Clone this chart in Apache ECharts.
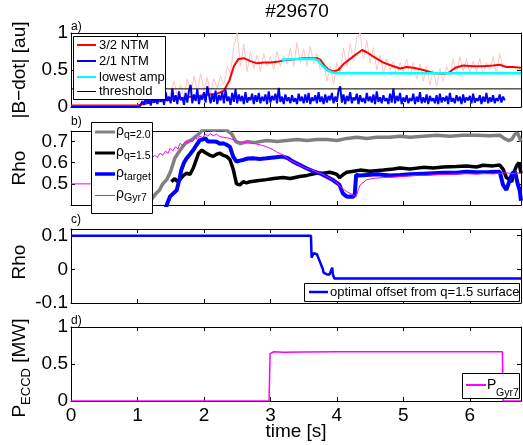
<!DOCTYPE html>
<html><head><meta charset="utf-8">
<script src="https://cdn.jsdelivr.net/npm/echarts@6/dist/echarts.min.js"></script>
<style>html,body{margin:0;padding:0;background:#fff}#c{width:523px;height:445px}</style>
</head><body><div id="c"></div>
<script>
// ================= DATA =================
const timeMax = 6.77;
const xTickLabels = [0, 1, 2, 3, 4, 5, 6];
const yTicksA = [0, 0.5, 1];
const yTicksB = [0.5, 0.6, 0.7];
const yTicksC = [-0.1, 0, 0.1];
const yTicksD = [0, 0.5, 1];

// a) raw 3/2 NTM amplitude (light pink), sampled every 0.05 s from 1.00 s
const raw32Start = 1.0, raw32Step = 0.05;
const raw32V = [0.02,0.12,0.30,0.08,0.18,0.05,0.22,0.10,0.26,0.12,
  0.20,0.35,0.15,0.30,0.12,0.38,0.18,0.42,0.20,0.45,
  0.22,0.40,0.18,0.38,0.25,0.42,0.30,0.55,0.45,0.82,
  1.00,0.55,0.85,0.48,0.75,0.52,0.70,0.48,0.72,0.55,
  0.68,0.50,0.75,0.55,0.70,0.58,0.80,0.55,0.87,0.60,
  0.78,0.55,0.82,0.58,0.72,0.50,0.62,0.35,0.55,0.30,
  0.60,0.45,0.80,0.55,0.85,0.62,0.95,1.00,0.65,0.90,
  0.60,0.80,0.50,0.70,0.45,0.65,0.50,0.62,0.42,0.60,
  0.48,0.65,0.42,0.60,0.38,0.58,0.35,0.55,0.30,0.50,
  0.28,0.52,0.35,0.55,0.42,0.65,0.45,0.68,0.48,0.65,
  0.45,0.62,0.48,0.66,0.44,0.60,0.50,0.68,0.46,0.72,
  0.52];

// a) smoothed 3/2 NTM (red)
const ntm32T = [0,1.0,1.2,1.5,1.8,2.0,2.2,2.3,2.38,2.45,2.52,2.6,2.7,2.8,2.9,3.0,3.1,3.2,3.3,3.4,3.5,3.6,3.7,3.75,3.82,3.88,3.95,4.02,4.1,4.2,4.3,4.38,4.45,4.55,4.7,4.85,4.95,5.05,5.15,5.3,5.45,5.6,5.68,5.78,5.9,6.05,6.2,6.35,6.45,6.55,6.65,6.77];
const ntm32V = [0.02,0.02,0.06,0.10,0.14,0.16,0.18,0.22,0.35,0.55,0.65,0.66,0.62,0.59,0.60,0.60,0.61,0.63,0.64,0.65,0.66,0.66,0.66,0.64,0.55,0.50,0.48,0.50,0.58,0.65,0.72,0.77,0.74,0.68,0.60,0.55,0.52,0.54,0.53,0.50,0.46,0.45,0.46,0.53,0.56,0.55,0.55,0.56,0.57,0.54,0.54,0.53];

// a) 2/1 NTM (blue): flat part then samples every 0.025 s from 1.05 s
const ntm21FlatT = [0, 1.03];
const ntm21FlatV = [0, 0];
const ntm21Start = 1.05, ntm21Step = 0.025;
const ntm21V = [0.02,0.08,0.03,0.12,0.05,0.10,0.02,0.15,0.06,0.11,
  0.04,0.18,0.07,0.13,0.03,0.20,0.08,0.14,0.05,0.25,
  0.07,0.16,0.04,0.21,0.09,0.13,0.03,0.19,0.06,0.22,
  0.30,0.05,0.17,0.08,0.24,0.04,0.15,0.10,0.20,0.06,
  0.28,0.30,0.05,0.18,0.07,0.22,0.04,0.16,0.09,0.20,
  0.05,0.23,0.08,0.14,0.03,0.19,0.07,0.24,0.05,0.17,
  0.08,0.15,0.04,0.20,0.06,0.13,0.09,0.18,0.04,0.16,
  0.07,0.19,0.05,0.14,0.08,0.17,0.04,0.21,0.06,0.15,
  0.09,0.18,0.05,0.26,0.07,0.14,0.04,0.17,0.08,0.13,
  0.05,0.16,0.07,0.12,0.04,0.18,0.08,0.14,0.05,0.17,
  0.06,0.19,0.04,0.13,0.08,0.16,0.05,0.20,0.07,0.14,
  0.04,0.17,0.06,0.15,0.09,0.19,0.05,0.14,0.07,0.22,
  0.28,0.06,0.17,0.04,0.15,0.08,0.20,0.05,0.13,0.09,
  0.18,0.04,0.16,0.07,0.12,0.05,0.19,0.08,0.14,0.06,
  0.17,0.04,0.21,0.07,0.13,0.05,0.16,0.08,0.12,0.04,
  0.18,0.06,0.25,0.05,0.15,0.08,0.19,0.04,0.13,0.07,
  0.16,0.05,0.12,0.08,0.18,0.04,0.14,0.07,0.20,0.05,
  0.13,0.06,0.17,0.04,0.15,0.08,0.12,0.05,0.16,0.04,
  0.18,0.06,0.13,0.08,0.15,0.04,0.19,0.07,0.12,0.05,
  0.16,0.08,0.14,0.04,0.17,0.06,0.13,0.09,0.15,0.05,
  0.18,0.06,0.12,0.08,0.16,0.04,0.14,0.07,0.19,0.05,
  0.13,0.07,0.16,0.05,0.12,0.08,0.17,0.06,0.14,0.09];

// a) lowest amplitude (cyan) and threshold (black)
const lowAmpT = [3.17,3.3,3.5,3.65,3.72,3.78,3.85,3.92,4.0,6.77];
const lowAmpV = [0.64,0.645,0.65,0.65,0.63,0.56,0.50,0.47,0.455,0.455];
const thresholdT = [0, 6.77];
const thresholdV = [0.245, 0.245];

// b) rho q=2.0 (grey)
const q20T = [1.22,1.28,1.33,1.38,1.44,1.5,1.56,1.62,1.69,1.75,1.8,1.86,1.92,1.97,2.05,2.15,2.25,2.35,2.42,2.48,2.55,2.65,2.75,2.85,2.95,3.1,3.25,3.4,3.55,3.7,3.85,4.0,4.15,4.3,4.45,4.6,4.8,4.95,5.1,5.3,5.5,5.7,5.9,6.1,6.3,6.45,6.52,6.58,6.63,6.68,6.72,6.77];
const q20V = [0.43,0.455,0.47,0.50,0.52,0.56,0.62,0.65,0.68,0.70,0.705,0.72,0.735,0.752,0.758,0.754,0.757,0.752,0.735,0.70,0.69,0.70,0.695,0.70,0.705,0.70,0.705,0.71,0.705,0.71,0.71,0.705,0.715,0.72,0.715,0.72,0.72,0.725,0.72,0.725,0.73,0.725,0.73,0.73,0.728,0.73,0.715,0.705,0.71,0.735,0.74,0.70];

// b) rho q=1.5 (black)
const q15T = [1.51,1.56,1.6,1.64,1.69,1.74,1.79,1.84,1.88,1.92,1.97,2.01,2.04,2.09,2.14,2.19,2.24,2.29,2.34,2.39,2.44,2.49,2.54,2.59,2.64,2.69,2.8,2.94,3.05,3.19,3.3,3.44,3.55,3.69,3.8,3.89,3.95,4.0,4.04,4.1,4.15,4.25,4.35,4.5,4.7,4.85,4.95,5.1,5.3,5.45,5.6,5.8,5.95,6.1,6.2,6.35,6.45,6.5,6.55,6.6,6.63,6.67,6.71,6.74,6.77];
const q15V = [0.51,0.525,0.51,0.52,0.54,0.55,0.545,0.575,0.61,0.645,0.66,0.65,0.645,0.635,0.63,0.64,0.645,0.635,0.63,0.615,0.57,0.5,0.495,0.51,0.505,0.51,0.515,0.52,0.525,0.53,0.525,0.535,0.54,0.55,0.55,0.555,0.55,0.545,0.53,0.545,0.555,0.56,0.565,0.56,0.565,0.57,0.575,0.57,0.578,0.575,0.58,0.582,0.584,0.58,0.588,0.585,0.589,0.57,0.53,0.52,0.51,0.56,0.59,0.6,0.55];

// b) rho target (blue)
const targetT = [1.42,1.44,1.49,1.54,1.59,1.63,1.66,1.7,1.74,1.79,1.84,1.89,1.94,1.98,2.02,2.06,2.09,2.14,2.19,2.24,2.29,2.34,2.39,2.44,2.49,2.54,2.59,2.66,2.74,2.84,2.94,3.05,3.19,3.27,3.34,3.44,3.54,3.64,3.74,3.84,3.94,4.04,4.09,4.15,4.2,4.25,4.27,4.29,4.35,4.45,4.6,4.8,4.95,5.1,5.3,5.45,5.6,5.8,5.95,6.1,6.3,6.45,6.5,6.55,6.6,6.64,6.68,6.72,6.75,6.77];
const targetV = [0.38,0.40,0.44,0.455,0.47,0.52,0.566,0.60,0.621,0.64,0.66,0.685,0.707,0.71,0.715,0.70,0.692,0.70,0.699,0.69,0.692,0.685,0.676,0.629,0.605,0.61,0.613,0.62,0.621,0.618,0.621,0.625,0.629,0.62,0.605,0.59,0.574,0.56,0.55,0.535,0.518,0.495,0.455,0.439,0.44,0.439,0.455,0.542,0.54,0.542,0.545,0.54,0.542,0.545,0.548,0.55,0.552,0.553,0.557,0.555,0.556,0.557,0.495,0.471,0.518,0.55,0.557,0.5,0.47,0.42];

// b) rho Gyr7 (magenta)
const gyrT = [0,1.1,1.15,1.21,1.26,1.3,1.34,1.38,1.42,1.46,1.49,1.53,1.57,1.61,1.64,1.68,1.72,1.76,1.79,1.83,1.87,1.9,1.94,1.98,2.02,2.06,2.09,2.14,2.19,2.24,2.3,2.39,2.46,2.54,2.62,2.74,2.84,2.94,3.02,3.09,3.19,3.29,3.37,3.44,3.54,3.62,3.69,3.77,3.85,3.94,4.0,4.05,4.1,4.15,4.2,4.25,4.29,4.32,4.35,4.45,4.58,4.7,4.85,4.95,5.1,5.2,5.35,5.45,5.6,5.7,5.85,5.95,6.1,6.2,6.35,6.45,6.55,6.6,6.65,6.7,6.77];
const gyrV = [0.5,0.5,0.61,0.62,0.635,0.625,0.645,0.635,0.655,0.645,0.668,0.655,0.675,0.665,0.692,0.68,0.7,0.69,0.707,0.7,0.72,0.71,0.726,0.718,0.735,0.725,0.738,0.728,0.735,0.723,0.72,0.715,0.705,0.699,0.695,0.692,0.685,0.676,0.665,0.652,0.636,0.613,0.6,0.589,0.573,0.567,0.557,0.548,0.534,0.518,0.505,0.487,0.475,0.463,0.455,0.447,0.439,0.47,0.495,0.52,0.527,0.53,0.532,0.535,0.538,0.54,0.54,0.543,0.545,0.545,0.547,0.548,0.546,0.549,0.547,0.55,0.552,0.55,0.548,0.552,0.55];

// c) optimal offset from q=1.5 surface
const offsetT = [0,3.61,3.62,3.64,3.65,3.7,3.72,3.74,3.75,3.77,3.79,3.8,3.83,3.85,3.87,3.89,3.91,3.93,3.94,3.96,6.77];
const offsetV = [0.1,0.1,0.035,0.035,0.048,0.045,0.035,0.035,0.02,0.01,0.0,-0.01,-0.005,-0.015,-0.01,-0.015,-0.005,0.005,-0.015,-0.027,-0.027];

// d) ECCD power Gyr7
const pGyrT = [0,2.98,2.995,3.05,3.2,3.5,4.0,4.5,5.0,5.5,6.0,6.49,6.5,6.77];
const pGyrV = [0,0,0.64,0.665,0.66,0.662,0.665,0.665,0.666,0.666,0.665,0.665,0,0];

// ================= CHART =================
const FONT = '"Liberation Sans", Arial, Helvetica, sans-serif';
const zip = (t, v) => t.map((x, i) => [x, v[i]]);
const sampled = (t0, dt, v) => v.map((y, i) => [Math.round((t0 + i * dt) * 1000) / 1000, y]);

const GL = 71, GW = 450, GH = 74;
const tops = [33, 131, 229, 327];
const grids = tops.map(t => ({left: GL, top: t, width: GW, height: GH, outerBoundsMode: 'none', containLabel: false}));

const black = {color: '#000', width: 1};
const xAxis = [];
const yAxis = [];
const yCfg = [
  {min: 0, max: 1, interval: 0.5, ticks: yTicksA},
  {min: 0.4, max: 0.75, interval: 0.1, ticks: yTicksB},
  {min: -0.1, max: 0.12, interval: 0.1, ticks: yTicksC},
  {min: 0, max: 1, interval: 0.5, ticks: yTicksD}
];
for (let g = 0; g < 4; g++) {
  const base = {gridIndex: g, type: 'value', min: 0, max: timeMax, interval: 1,
    axisLine: {show: true, onZero: false, lineStyle: black},
    axisTick: {show: true, inside: true, length: 4, lineStyle: black},
    splitLine: {show: false}};
  xAxis.push(Object.assign({}, base, {position: 'bottom',
    axisLabel: {show: g === 3, margin: 5, color: '#000', fontSize: 19, fontFamily: FONT,
      formatter: v => { const m = xTickLabels.find(x => Math.abs(x - v) < 1e-6); return m === undefined ? '' : String(m); }}}));
  xAxis.push(Object.assign({}, base, {position: 'top', axisLabel: {show: false}}));
  const c = yCfg[g];
  const yb = {gridIndex: g, type: 'value', min: c.min, max: c.max, interval: c.interval,
    axisLine: {show: true, onZero: false, lineStyle: black},
    axisTick: {show: true, inside: true, length: 4, lineStyle: black},
    splitLine: {show: false}};
  yAxis.push(Object.assign({}, yb, {position: 'left',
    axisLabel: {show: true, margin: 3, color: '#000', fontSize: 19, fontFamily: FONT,
      formatter: v => { const m = c.ticks.find(x => Math.abs(x - v) < 1e-6); return m === undefined ? '' : String(m); }}}));
  yAxis.push(Object.assign({}, yb, {position: 'right', axisLabel: {show: false}}));
}

function line(g, data, color, width, z) {
  return {type: 'line', xAxisIndex: g * 2, yAxisIndex: g * 2, data, showSymbol: false, symbol: 'none',
    lineStyle: {color, width}, itemStyle: {color}, clip: true, silent: true, z: z || 2,
    emphasis: {disabled: true}, animation: false};
}

const series = [
  line(0, sampled(raw32Start, raw32Step, raw32V), '#ffc4c4', 1, 2),
  line(0, zip(ntm32T, ntm32V), '#ff0000', 2, 3),
  line(0, zip(lowAmpT, lowAmpV), '#00ffff', 2.5, 4),
  line(0, zip(ntm21FlatT, ntm21FlatV).concat(sampled(ntm21Start, ntm21Step, ntm21V)), '#0000ff', 2, 5),
  line(0, zip(thresholdT, thresholdV), '#000000', 1, 6),
  line(1, zip(q20T, q20V), '#808080', 3.5, 2),
  line(1, zip(q15T, q15V), '#000000', 3.5, 3),
  line(1, zip(targetT, targetV), '#0000ff', 4, 4),
  line(1, zip(gyrT, gyrV), '#ff00ff', 1, 5),
  line(2, zip(offsetT, offsetV), '#0000ff', 2.5, 2),
  line(3, zip(pGyrT, pGyrV), '#ff00ff', 1.5, 2)
];

// ---------- graphic: titles, axis names, legends ----------
function txt(x, y, text, size, align, extra) {
  return Object.assign({type: 'text', x, y, z: 101, silent: true,
    style: {text, fontSize: size, fontFamily: FONT, fill: '#000',
      align: align || 'left', textAlign: align || 'left', verticalAlign: 'middle', textVerticalAlign: 'middle'}}, extra || {});
}
function box(x, y, w, h) {
  return {type: 'rect', z: 100, silent: true, shape: {x: x + 0.5, y: y + 0.5, width: w, height: h}, style: {fill: '#fff', stroke: '#000', lineWidth: 1}};
}
function seg(x1, x2, y, color, w) {
  return {type: 'line', z: 101, silent: true, shape: {x1, y1: y, x2, y2: y}, style: {stroke: color, lineWidth: w}};
}
function vlabel(cx, cy, parts) {
  const ctx = document.createElement('canvas').getContext('2d');
  const widths = parts.map(p => { ctx.font = p[1] + 'px ' + FONT; return ctx.measureText(p[0]).width; });
  const total = widths.reduce((a, b) => a + b, 0);
  let x = -total / 2;
  const children = parts.map((p, i) => { const t = txt(x, p[2], p[0], p[1], 'left'); x += widths[i]; return t; });
  return {type: 'group', x: cx, y: cy, rotation: Math.PI / 2, z: 101, children};
}

const graphic = [
  txt(297, 12, '#29670', 19, 'center'),
  txt(296, 432, 'time [s]', 19, 'center'),
  txt(71, 27, 'a)', 12, 'left'),
  txt(71, 122, 'b)', 12, 'left'),
  txt(71, 220, 'c)', 12, 'left'),
  txt(71, 321, 'd)', 12, 'left'),
  vlabel(20, 70, [['|B\u2212dot| [au]', 19, 0]]),
  vlabel(20, 168, [['Rho', 19, 0]]),
  vlabel(20, 262, [['Rho', 19, 0]]),
  vlabel(20, 368, [['P', 19, 0], ['ECCD', 13, 6], [' [MW]', 19, 0]]),
  // legend a
  box(73, 36, 92, 63),
  seg(77, 96, 45, '#ff0000', 2), txt(99, 45, '3/2 NTM', 13),
  seg(77, 96, 61, '#0000ff', 2), txt(99, 61, '2/1 NTM', 13),
  seg(77, 96, 77, '#00ffff', 2), txt(99, 77, 'lowest amp', 13),
  seg(77, 96, 91.5, '#000000', 1), txt(99, 91, 'threshold', 13),
  // legend b
  box(91, 122, 61, 91),
  seg(95, 115, 132, '#808080', 3), txt(116, 131, '\u03c1', 14), txt(124, 135, 'q=2.0', 10.5),
  seg(95, 115, 153, '#000000', 3), txt(116, 152, '\u03c1', 14), txt(124, 156, 'q=1.5', 10.5),
  seg(95, 115, 174, '#0000ff', 3.5), txt(116, 173, '\u03c1', 14), txt(124, 177, 'target', 10.5),
  seg(95, 115, 195.5, '#ff00ff', 1), txt(116, 194, '\u03c1', 14), txt(124, 198, 'Gyr7', 10.5),
  // legend c
  box(304, 283, 215, 18),
  seg(309, 328, 292, '#0000ff', 2.5), txt(330, 292, 'optimal offset from q=1.5 surface', 13),
  // legend d
  box(462, 373, 57, 25),
  seg(466, 486, 385, '#ff00ff', 2), txt(487, 385, 'P', 14), txt(496, 393, 'Gyr7', 10.5)
];

const chart = echarts.init(document.getElementById('c'), null, {renderer: 'canvas'});
chart.setOption({animation: false, backgroundColor: '#fff', grid: grids, xAxis, yAxis, series, graphic});
</script></body></html>
